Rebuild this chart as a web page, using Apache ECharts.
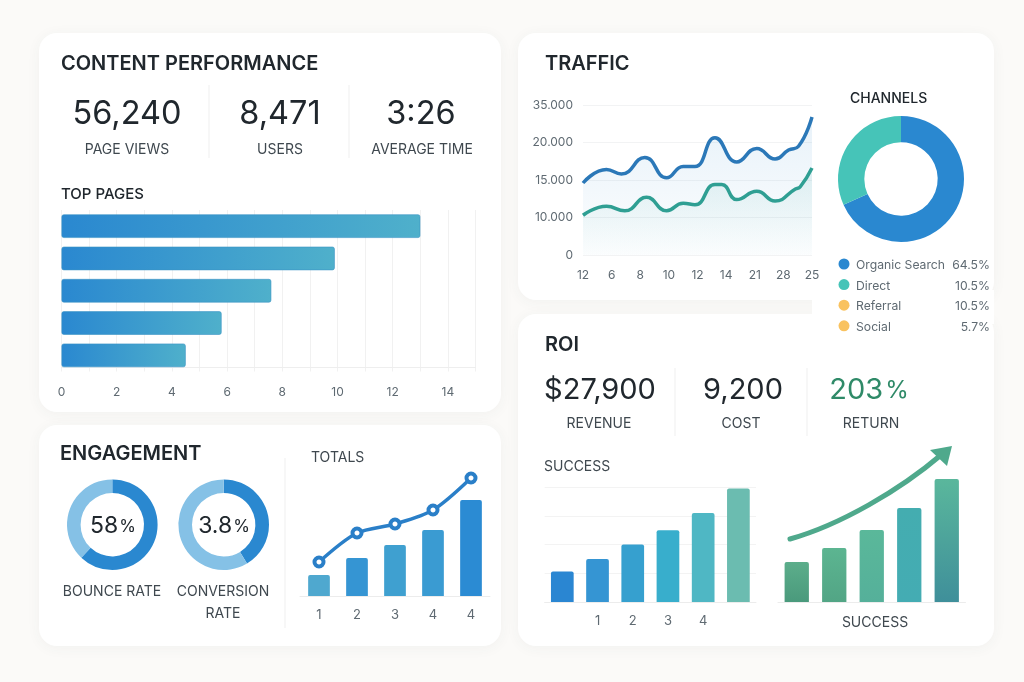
<!DOCTYPE html>
<html>
<head>
<meta charset="utf-8">
<style>
  html, body { margin: 0; padding: 0; background: #fbfaf8; }
  #chart { width: 1024px; height: 682px; }
</style>
</head>
<body>
<div id="chart"></div>
<script src="https://cdn.jsdelivr.net/npm/echarts@6/dist/echarts.min.js"></script>
<script>
var FONT = 'Inter';
var INK = '#20272d';
var LABEL = '#3f484f';
var GREY = '#5f6a72';
var BLUE = '#2a88d0';
var LIGHT_BLUE = '#85c1e6';
var TEAL = '#46c4b8';
var GREEN = '#2f8a68';

// top pages
var pageNames = ['Page 1', 'Page 2', 'Page 3', 'Page 4', 'Page 5'];
var pageValues = [13.0, 9.9, 7.6, 5.8, 4.5];
var pageTicks = [0, 2, 4, 6, 8, 10, 12, 14];

// traffic, the y axis in the picture has equal steps for uneven numbers
var trafficLabels = ['12', '6', '8', '10', '12', '14', '21', '28', '25'];
var trafficSteps = [0, 10000, 15000, 20000, 35000];
var trafficStepLabels = ['0', '10.000', '15.000', '20.000', '35.000'];
// turning points of each curve, "At" counts x axis labels from the left
var visitsBlueAt = [0, 0.82, 1.34, 2.16, 2.92, 3.5, 3.91, 4.61, 5.37, 6.07, 6.71, 7.18, 7.53, 8];
var visitsBlue = [14600, 16400, 15800, 18000, 15300, 16800, 16800, 21900, 17400, 19200, 17800, 19000, 19500, 30200];
var visitsTealAt = [0, 0.82, 1.46, 2.22, 2.92, 3.5, 3.91, 4.61, 4.85, 5.37, 6.07, 6.71, 7.42, 7.59, 8];
var visitsTeal = [10300, 11500, 10900, 12700, 10900, 11900, 11700, 14400, 14400, 12400, 13500, 12200, 13800, 14100, 16600];

// channels
var channelNames = ['Organic Search', 'Direct', 'Referral', 'Social'];
var channelShares = ['64.5%', '10.5%', '10.5%', '5.7%'];
var channelColors = [BLUE, TEAL, '#f9c25f', '#f9c25f'];
var ringValues = [68.3, 31.7];

// engagement
var bounceRing = [62, 38];
var conversionRing = [41.4, 58.6];
var totalsLabels = ['1', '2', '3', '4', '4'];
var totalsBars = [21, 38, 51, 66, 96];
var totalsLine = [34, 63, 72, 86, 118];

// success
var successLabels = ['', '1', '2', '3', '4', ''];
var successLeft = [1.06, 1.5, 2, 2.5, 3.1, 3.95];
var successRight = [40, 54, 72, 94, 123];

function text(x, y, str, size, weight, color, align) {
  return {
    type: 'text', x: x, y: y + 1.5, silent: true,
    style: {
      text: str, fill: color || INK, font: (weight || 400) + ' ' + size + 'px ' + FONT,
      textAlign: align || 'left', textVerticalAlign: 'middle'
    }
  };
}

// big number with a smaller percent sign
function percent(x, y, num, size, sizeSign, color, gap) {
  var t = text(x, y, '{a|' + num + '}{b|%}', size, 400, color, 'center');
  t.style.rich = {
    a: { font: '400 ' + size + 'px ' + FONT, fill: color },
    b: { font: '400 ' + sizeSign + 'px ' + FONT, fill: color, padding: [0, 0, 0, gap] }
  };
  return t;
}

function card(x, y, w, h) {
  return {
    type: 'rect', silent: true, shape: { x: x, y: y, width: w, height: h, r: 18 },
    style: { fill: '#fff', shadowBlur: 14, shadowColor: 'rgba(60,70,80,0.05)', shadowOffsetY: 2 }
  };
}

function divider(x1, y1, x2, y2) {
  return {
    type: 'line', silent: true, shape: { x1: x1, y1: y1, x2: x2, y2: y2 },
    style: { stroke: '#efefef', lineWidth: 1 }
  };
}

function vertical(top, bottom) {
  return new echarts.graphic.LinearGradient(0, 0, 0, 1, [{ offset: 0, color: top }, { offset: 1, color: bottom }]);
}

function ring(name, cx, r0, r1, values, colors) {
  return {
    type: 'pie', name: name, center: [cx[0], cx[1]], radius: [r0, r1], startAngle: 90, clockwise: true,
    silent: true, label: { show: false }, labelLine: { show: false }, animation: false,
    data: values.map(function (v, i) { return { value: v, itemStyle: { color: colors[i] } }; })
  };
}

// equal axis steps between uneven numbers
function toSteps(v) {
  for (var i = 1; i < trafficSteps.length; i++) {
    if (v <= trafficSteps[i]) {
      return i - 1 + (v - trafficSteps[i - 1]) / (trafficSteps[i] - trafficSteps[i - 1]);
    }
  }
  return trafficSteps.length - 1;
}

function trafficPoints(at, values) {
  return values.map(function (v, i) { return [at[i], toSteps(v)]; });
}

var graphics = [
  card(39, 33, 462, 379), card(39, 425, 462, 221), card(518, 33, 476, 267), card(518, 314, 476, 332),
  // the channels panel runs over the gap between the two right cards
  { type: 'rect', silent: true, shape: { x: 812, y: 290, width: 182, height: 34 }, style: { fill: '#fff' } },

  text(61, 62, 'CONTENT PERFORMANCE', 20, 600),
  text(127, 113, '56,240', 32.5, 400, INK, 'center'),
  text(280, 113, '8,471', 32.5, 400, INK, 'center'),
  text(421, 113, '3:26', 32.5, 400, INK, 'center'),
  text(127, 148, 'PAGE VIEWS', 14, 400, LABEL, 'center'),
  text(280, 148, 'USERS', 14, 400, LABEL, 'center'),
  text(422, 148, 'AVERAGE TIME', 14, 400, LABEL, 'center'),
  divider(209, 85, 209, 158), divider(349, 85, 349, 158),
  text(61, 193, 'TOP PAGES', 15, 500),

  text(60, 452, 'ENGAGEMENT', 20, 600),
  percent(113, 525, '58', 23, 17, INK, 1),
  percent(224, 525, '3.8', 23, 17, INK, 1),
  text(112, 590, 'BOUNCE RATE', 14, 400, LABEL, 'center'),
  text(223, 590, 'CONVERSION', 14, 400, LABEL, 'center'),
  text(223, 612, 'RATE', 14, 400, LABEL, 'center'),
  divider(285, 458, 285, 628),
  text(311, 456, 'TOTALS', 14, 400, LABEL),

  text(545, 62, 'TRAFFIC', 20, 600),
  text(850, 97, 'CHANNELS', 14, 500),

  text(545, 343, 'ROI', 20, 600),
  text(600, 389, '$27,900', 29, 400, INK, 'center'),
  text(743, 389, '9,200', 29, 400, INK, 'center'),
  percent(869, 389, '203', 29, 24, GREEN, 2),
  text(599, 422, 'REVENUE', 14, 400, LABEL, 'center'),
  text(741, 422, 'COST', 14, 400, LABEL, 'center'),
  text(871, 422, 'RETURN', 14, 400, LABEL, 'center'),
  divider(675, 368, 675, 436), divider(807, 368, 807, 436),
  text(544, 465, 'SUCCESS', 14, 400, LABEL),
  text(875, 621, 'SUCCESS', 14, 400, LABEL, 'center'),

  // arrow over the green bars
  {
    type: 'bezierCurve', silent: true, z: 20,
    shape: { x1: 790, y1: 539, cpx1: 840, cpy1: 525, cpx2: 900, cpy2: 490, x2: 941, y2: 455 },
    style: { stroke: '#4fa98c', lineWidth: 5, lineCap: 'round', fill: null }
  },
  {
    type: 'polygon', silent: true, z: 20,
    shape: { points: [[952, 446], [930, 450], [947, 466]] },
    style: { fill: '#4fa98c' }
  }
];

channelNames.forEach(function (name, i) {
  var y = 264 + i * 20.6;
  graphics.push({ type: 'circle', silent: true, shape: { cx: 844, cy: y, r: 5.5 }, style: { fill: channelColors[i] } });
  graphics.push(text(856, y, name, 12.2, 400, GREY));
  graphics.push(text(990, y, channelShares[i], 12.2, 400, GREY, 'right'));
});

var option = {
  animation: false,
  backgroundColor: '#fbfaf8',
  graphic: graphics,
  grid: [
    { left: 61.5, top: 210, width: 414, height: 161.5 },
    { left: 583, top: 105, width: 229, height: 150 },
    { left: 300, top: 470, width: 190, height: 126 },
    { left: 544.7, top: 487, width: 211.3, height: 115 },
    { left: 778, top: 470, width: 187.5, height: 132 }
  ],
  xAxis: [
    {
      gridIndex: 0, type: 'value', min: 0, max: 15, interval: 1, offset: -4,
      axisLine: { show: true, onZero: false, lineStyle: { color: '#eeeeee' } }, axisTick: { show: false },
      splitLine: { lineStyle: { color: '#f1f1f1' } },
      axisLabel: { customValues: pageTicks, color: GREY, fontFamily: FONT, fontSize: 12, margin: 19 }
    },
    {
      gridIndex: 1, type: 'value', min: 0, max: 8, interval: 1,
      axisLine: { show: false }, axisTick: { show: false }, splitLine: { show: false },
      axisLabel: {
        color: GREY, fontFamily: FONT, fontSize: 12, margin: 14,
        formatter: function (v) { return trafficLabels[v]; }
      }
    },
    {
      gridIndex: 2, type: 'category', data: totalsLabels,
      axisLine: { lineStyle: { color: '#ececec' } }, axisTick: { show: false },
      axisLabel: { color: GREY, fontFamily: FONT, fontSize: 13, margin: 13 }
    },
    {
      gridIndex: 3, type: 'category', data: successLabels,
      axisLine: { lineStyle: { color: '#ececec' } }, axisTick: { show: false },
      axisLabel: { interval: 0, color: GREY, fontFamily: FONT, fontSize: 13, margin: 13 }
    },
    {
      gridIndex: 4, type: 'category', data: successRight.map(String),
      axisLine: { lineStyle: { color: '#ececec' } }, axisTick: { show: false },
      axisLabel: { show: false }
    }
  ],
  yAxis: [
    {
      gridIndex: 0, type: 'category', data: pageNames, inverse: true,
      axisLine: { show: false }, axisTick: { show: false }, axisLabel: { show: false }
    },
    {
      gridIndex: 1, type: 'value', min: 0, max: 4, interval: 1,
      axisLine: { show: false }, axisTick: { show: false },
      splitLine: { lineStyle: { color: '#f2f3f4' } },
      axisLabel: {
        color: GREY, fontFamily: FONT, fontSize: 12, margin: 10,
        formatter: function (v) { return trafficStepLabels[v]; }
      }
    },
    {
      gridIndex: 2, type: 'value', min: 0, max: 126,
      axisLine: { show: false }, axisTick: { show: false }, axisLabel: { show: false }, splitLine: { show: false }
    },
    {
      gridIndex: 3, type: 'value', min: 0, max: 4, interval: 1,
      axisLine: { show: false }, axisTick: { show: false }, axisLabel: { show: false },
      splitLine: { lineStyle: { color: '#f3f3f3' } }
    },
    {
      gridIndex: 4, type: 'value', min: 0, max: 132,
      axisLine: { show: false }, axisTick: { show: false }, axisLabel: { show: false }, splitLine: { show: false }
    }
  ],
  series: [
    {
      type: 'bar', xAxisIndex: 0, yAxisIndex: 0, data: pageValues, barWidth: 23.5, silent: true,
      itemStyle: {
        borderRadius: 2, borderColor: '#3b94c4', borderWidth: 0.6,
        color: new echarts.graphic.LinearGradient(0, 0, 1, 0, [{ offset: 0, color: '#2a88d0' }, { offset: 1, color: '#4fb0cb' }])
      }
    },
    {
      type: 'line', xAxisIndex: 1, yAxisIndex: 1, data: trafficPoints(visitsBlueAt, visitsBlue), smooth: 0.5, showSymbol: false, silent: true,
      lineStyle: { color: '#2b78b8', width: 3.5 },
      areaStyle: { color: vertical('rgba(70,150,210,0.18)', 'rgba(70,150,210,0.02)') }
    },
    {
      type: 'line', xAxisIndex: 1, yAxisIndex: 1, data: trafficPoints(visitsTealAt, visitsTeal), smooth: 0.5, showSymbol: false, silent: true,
      lineStyle: { color: '#2f9f93', width: 3.5 },
      areaStyle: { color: vertical('rgba(60,170,160,0.16)', 'rgba(60,170,160,0.01)') }
    },
    ring('Channels', [901, 179], 36.7, 63, ringValues, [BLUE, TEAL]),
    ring('Bounce rate', [112.3, 524.7], 31.7, 45.3, bounceRing, [BLUE, LIGHT_BLUE]),
    ring('Conversion rate', [223.7, 524.7], 31.7, 45.3, conversionRing, [BLUE, LIGHT_BLUE]),
    {
      type: 'bar', xAxisIndex: 2, yAxisIndex: 2, barWidth: 21.7, silent: true,
      data: totalsBars.map(function (v, i) {
        var colors = ['#4fa8cf', '#3595d3', '#3fa0d0', '#3a9bd2', '#2b8bd3'];
        return { value: v, itemStyle: { color: colors[i], borderRadius: [2, 2, 0, 0] } };
      })
    },
    {
      type: 'line', xAxisIndex: 2, yAxisIndex: 2, data: totalsLine, smooth: 0.3, silent: true,
      symbol: 'circle', symbolSize: 9, lineStyle: { color: '#2a7fc8', width: 3.5 },
      itemStyle: { color: '#fff', borderColor: '#2a7fc8', borderWidth: 4 }
    },
    {
      type: 'bar', xAxisIndex: 3, yAxisIndex: 3, barWidth: 22.7, silent: true,
      data: successLeft.map(function (v, i) {
        var colors = ['#2a86d2', '#3595d3', '#36a0cf', '#38aecc', '#4fb7c4', '#6bbcb0'];
        return { value: v, itemStyle: { color: colors[i], borderRadius: [2, 2, 0, 0] } };
      })
    },
    {
      type: 'bar', xAxisIndex: 4, yAxisIndex: 4, barWidth: 24.3, silent: true,
      data: successRight.map(function (v, i) {
        var tops = ['#5cae8b', '#5cb591', '#5ab89a', '#44adb0', '#5ab79c'];
        var bottoms = ['#4a9a7c', '#52a585', '#55b09a', '#44acb3', '#3f8f9a'];
        return { value: v, itemStyle: { color: vertical(tops[i], bottoms[i]), borderRadius: [2, 2, 0, 0] } };
      })
    }
  ]
};

var myChart = echarts.init(document.getElementById('chart'));
myChart.setOption(option);
</script>
</body>
</html>
